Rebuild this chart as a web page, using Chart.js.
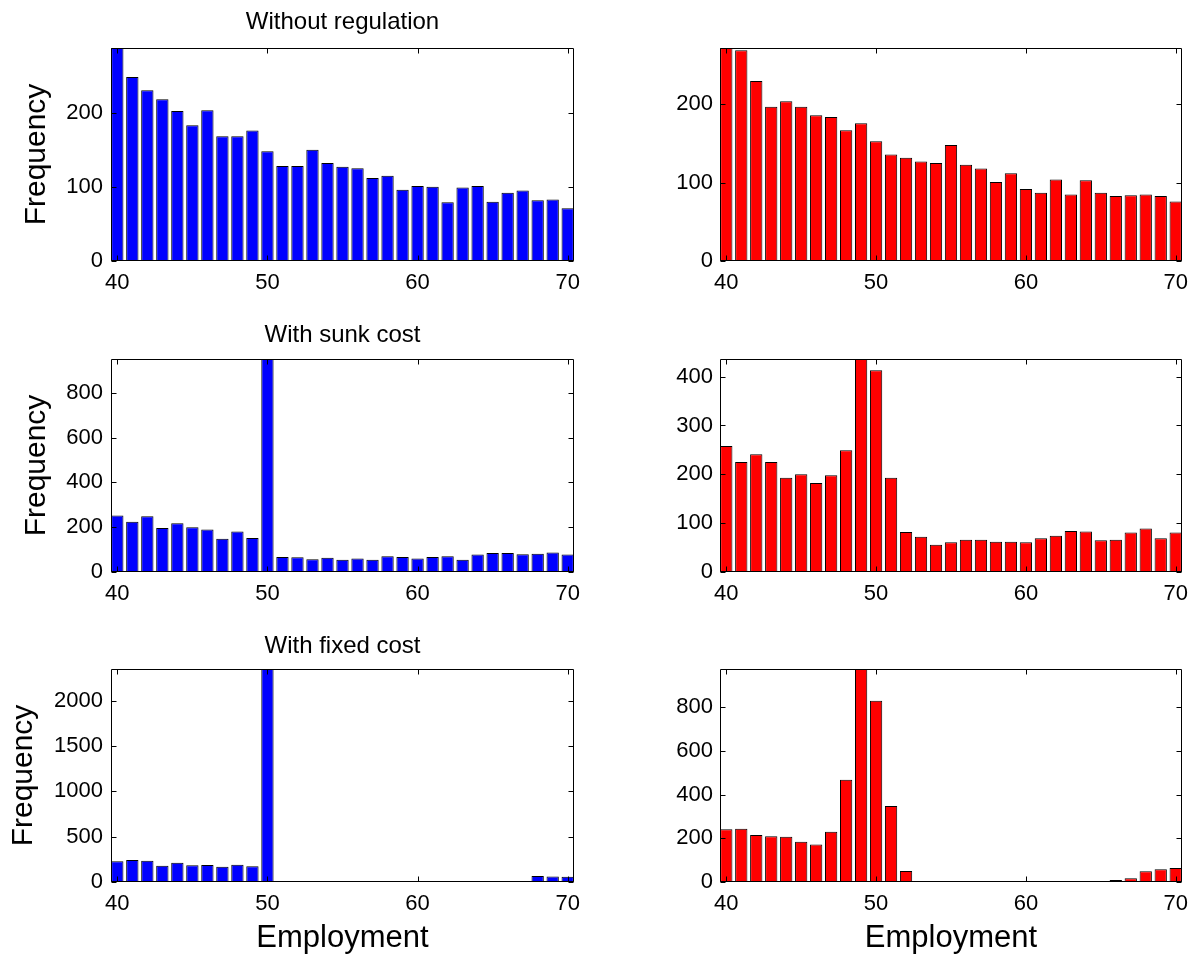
<!DOCTYPE html>
<html>
<head>
<meta charset="utf-8">
<title>Employment histograms</title>
<script src="https://cdn.jsdelivr.net/npm/chart.js@4.4.1/dist/chart.umd.min.js"></script>
<style>
  body { margin: 0; background: #fff; }
  #fig { position: relative; width: 1199px; height: 957px; overflow: hidden; }
  #fig canvas { position: absolute; }
</style>
</head>
<body>
<div id="fig">
  <canvas id="noRegLeft" width="600" height="311" style="left:0;top:0"></canvas>
  <canvas id="noRegRight" width="599" height="311" style="left:600px;top:0"></canvas>
  <canvas id="sunkLeft" width="600" height="310" style="left:0;top:311px"></canvas>
  <canvas id="sunkRight" width="599" height="310" style="left:600px;top:311px"></canvas>
  <canvas id="fixedLeft" width="600" height="336" style="left:0;top:621px"></canvas>
  <canvas id="fixedRight" width="599" height="336" style="left:600px;top:621px"></canvas>
</div>
<script>
// Employment levels (histogram bins)
const employment = [40, 41, 42, 43, 44, 45, 46, 47, 48, 49, 50, 51, 52, 53, 54, 55,
                    56, 57, 58, 59, 60, 61, 62, 63, 64, 65, 66, 67, 68, 69, 70];

// Frequencies (left = blue, right = red)
const noRegBlue = [287, 248, 230, 218, 202, 183, 203, 168, 168, 176, 148, 128, 128, 150, 132, 127,
                   125, 112, 115, 96, 101, 100, 79, 99, 101, 80, 92, 95, 82, 83, 71];
const noRegRed = [272, 269, 230, 197, 204, 197, 186, 184, 167, 176, 153, 136, 132, 127, 125, 148,
                  123, 118, 101, 112, 92, 87, 104, 85, 103, 87, 83, 84, 85, 83, 76];
const sunkBlue = [252, 224, 249, 197, 218, 200, 190, 148, 181, 152, 951, 67, 66, 57, 64, 55,
                  60, 55, 70, 67, 60, 67, 70, 55, 78, 85, 85, 79, 81, 87, 78];
const sunkRed = [258, 225, 241, 225, 193, 200, 182, 198, 249, 436, 413, 193, 82, 72, 56, 61,
                 66, 66, 62, 62, 61, 69, 74, 84, 83, 65, 66, 81, 89, 69, 81];
const fixedBlue = [228, 243, 235, 180, 213, 184, 187, 169, 191, 173, 2349, 0, 0, 0, 0, 0,
                   0, 0, 0, 0, 0, 0, 0, 0, 0, 0, 0, 8, 66, 62, 59];
const fixedRed = [241, 244, 215, 209, 207, 184, 171, 230, 468, 974, 829, 347, 50, 3, 0, 0,
                  0, 0, 0, 0, 0, 0, 0, 0, 0, 3, 9, 17, 49, 58, 64];

// Tick labels
const xTicks = [40, 50, 60, 70];
const yTicksNoReg = [0, 100, 200];
const yTicksSunkLeft = [0, 200, 400, 600, 800];
const yTicksSunkRight = [0, 100, 200, 300, 400];
const yTicksFixedLeft = [0, 500, 1000, 1500, 2000];
const yTicksFixedRight = [0, 200, 400, 600, 800];

const FONT = "'Liberation Sans', Arial, Helvetica, sans-serif";

// box around the axes with inward tick marks (matlab look)
const boxTicks = {
  id: 'boxTicks',
  afterDraw(chart) {
    const { ctx, chartArea: a, scales: { x, y } } = chart;
    const L = Math.round(a.left) + 0.5, R = Math.round(a.right) - 0.5;
    const T = Math.round(a.top) + 0.5, B = Math.round(a.bottom) - 0.5;
    ctx.save();
    ctx.strokeStyle = '#000';
    ctx.lineWidth = 1;
    ctx.beginPath();
    ctx.rect(L, T, R - L, B - T);
    x.ticks.forEach(t => {
      const px = Math.round(x.getPixelForValue(t.value)) + 0.5;
      ctx.moveTo(px, B); ctx.lineTo(px, B - 5);
      ctx.moveTo(px, T); ctx.lineTo(px, T + 5);
    });
    y.ticks.forEach(t => {
      const py = Math.round(y.getPixelForValue(t.value)) + 0.5;
      ctx.moveTo(L, py); ctx.lineTo(L + 5, py);
      ctx.moveTo(R, py); ctx.lineTo(R - 5, py);
    });
    ctx.stroke();
    ctx.restore();
  }
};

function makePanel(id, values, color, yTicks, opts) {
  const left = opts.side === 'left';
  const tPad = opts.titlePad || 8;
  return new Chart(document.getElementById(id), {
    type: 'bar',
    data: {
      datasets: [{
        data: employment.map((e, i) => ({ x: e, y: values[i] })),
        backgroundColor: color,
        borderColor: '#000',
        borderWidth: 1,
        borderSkipped: false,
        categoryPercentage: 1,
        barPercentage: 0.82
      }]
    },
    options: {
      responsive: false,
      animation: false,
      devicePixelRatio: 1,
      layout: { padding: { top: opts.title ? 0 : 48, right: left ? 26 : 17, left: 0, bottom: 0 } },
      plugins: {
        legend: { display: false },
        tooltip: { enabled: false },
        title: {
          display: !!opts.title,
          text: opts.title || '',
          fullSize: false,
          color: '#000',
          font: { family: FONT, size: 24, weight: 'normal' },
          padding: { top: tPad, bottom: 48 - 28.8 - tPad }
        }
      },
      scales: {
        x: {
          type: 'linear',
          min: 39.58,
          max: 70.42,
          offset: false,
          grid: { display: false, drawTicks: false },
          border: { display: false },
          afterBuildTicks: s => { s.ticks = xTicks.map(v => ({ value: v })); },
          afterFit: s => { s.height = opts.xHeight; },
          ticks: { color: '#000', font: { family: FONT, size: 22 }, padding: 9, maxRotation: 0, callback: v => String(v) },
          title: {
            display: !!opts.xTitle,
            text: opts.xTitle || '',
            color: '#000',
            font: { family: FONT, size: 31 },
            padding: { top: 0, bottom: 0 }
          }
        },
        y: {
          min: 0,
          max: Math.max(...values),
          grid: { display: false, drawTicks: false },
          border: { display: false },
          afterBuildTicks: s => { s.ticks = yTicks.map(v => ({ value: v })); },
          afterFit: s => { s.width = left ? 111 : 120; },
          ticks: { color: '#000', font: { family: FONT, size: 22 }, padding: left ? 8 : 7, callback: v => String(v) },
          title: {
            display: left,
            text: 'Frequency',
            color: '#000',
            font: { family: FONT, size: 30 },
            padding: { top: opts.yTitlePad || 19, bottom: 0 }
          }
        }
      }
    },
    plugins: [boxTicks]
  });
}

makePanel('noRegLeft', noRegBlue, '#0000ff', yTicksNoReg, { side: 'left', title: 'Without regulation', xHeight: 50, titlePad: 8 });
makePanel('noRegRight', noRegRed, '#ff0000', yTicksNoReg, { side: 'right', xHeight: 50 });
makePanel('sunkLeft', sunkBlue, '#0000ff', yTicksSunkLeft, { side: 'left', title: 'With sunk cost', xHeight: 49, titlePad: 10 });
makePanel('sunkRight', sunkRed, '#ff0000', yTicksSunkRight, { side: 'right', xHeight: 49 });
makePanel('fixedLeft', fixedBlue, '#0000ff', yTicksFixedLeft, { side: 'left', title: 'With fixed cost', xHeight: 75, xTitle: 'Employment', yTitlePad: 5.5, titlePad: 11 });
makePanel('fixedRight', fixedRed, '#ff0000', yTicksFixedRight, { side: 'right', xHeight: 75, xTitle: 'Employment' });
</script>
</body>
</html>
